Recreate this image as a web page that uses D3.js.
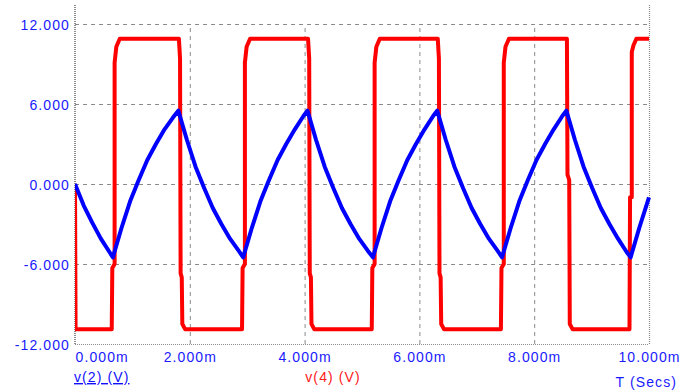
<!DOCTYPE html>
<html><head><meta charset="utf-8">
<script src="https://cdn.jsdelivr.net/npm/d3@7"></script>
<style>
html,body{margin:0;padding:0;background:#fff;}
svg{display:block;}
text{font-family:"Liberation Sans",Arial,sans-serif;font-size:14px;letter-spacing:1.1px;}
</style></head>
<body>
<svg id="chart" width="683" height="391"></svg>
<script>
// Tick values
const yTicks = [-12, -6, 0, 6, 12];
const xTicks = [0, 2, 4, 6, 8, 10];
const xUnit = "m";
const xDomain = [0, 10];
const yDomain = [-12, 12];

// v(2): capacitor voltage (ms, V)
const v2 = [
  [0,0],[0.15,-1.6],[0.3,-2.9],[0.45,-4.1],[0.6,-5.1],[0.66,-5.5],
  [0.81,-3.3],[0.96,-1.3],[1.11,0.3],[1.26,1.8],[1.41,3.0],[1.56,4.1],[1.71,5.0],[1.80,5.5],
  [1.95,3.3],[2.10,1.3],[2.25,-0.3],[2.40,-1.8],[2.55,-3.0],[2.70,-4.1],[2.85,-5.0],[2.93,-5.5],
  [3.08,-3.3],[3.23,-1.3],[3.38,0.3],[3.53,1.8],[3.68,3.0],[3.83,4.1],[3.98,5.1],[4.05,5.5],
  [4.20,3.3],[4.35,1.3],[4.50,-0.3],[4.65,-1.8],[4.80,-3.0],[4.95,-4.1],[5.10,-5.0],[5.19,-5.5],
  [5.34,-3.3],[5.49,-1.3],[5.64,0.3],[5.79,1.8],[5.94,3.0],[6.09,4.1],[6.24,5.1],[6.31,5.5],
  [6.46,3.3],[6.61,1.3],[6.76,-0.3],[6.91,-1.8],[7.06,-3.0],[7.21,-4.1],[7.36,-5.0],[7.44,-5.5],
  [7.59,-3.3],[7.74,-1.3],[7.89,0.3],[8.04,1.8],[8.19,3.0],[8.34,4.1],[8.49,5.1],[8.56,5.5],
  [8.71,3.3],[8.86,1.3],[9.01,-0.3],[9.16,-1.8],[9.31,-3.0],[9.46,-4.1],[9.61,-5.1],[9.68,-5.5],
  [9.83,-3.3],[10.0,-1.0]
];

// v(4): comparator output (ms, V)
const v4 = [
  [0,0],[0.01,-10.9],
  [0.64,-10.9],[0.65,-6.3],[0.69,-6.0],[0.69,9.1],[0.72,10.3],[0.78,10.9],
  [1.81,10.9],[1.83,9.4],[1.84,-6.7],[1.86,-7.0],[1.87,-10.5],[1.92,-10.9],
  [2.91,-10.9],[2.92,-6.3],[2.96,-6.0],[2.96,9.1],[2.99,10.3],[3.05,10.9],
  [4.06,10.9],[4.08,9.4],[4.09,-6.7],[4.11,-7.0],[4.12,-10.5],[4.17,-10.9],
  [5.17,-10.9],[5.18,-6.3],[5.22,-6.0],[5.22,9.1],[5.25,10.3],[5.31,10.9],
  [6.32,10.9],[6.34,9.4],[6.35,-6.7],[6.37,-7.0],[6.38,-10.5],[6.43,-10.9],
  [7.42,-10.9],[7.43,-6.3],[7.47,-6.0],[7.47,9.1],[7.50,10.3],[7.56,10.9],
  [8.57,10.9],[8.58,0.7],[8.61,0.3],[8.62,-10.5],[8.67,-10.9],
  [9.66,-10.9],[9.67,-1.0],[9.70,-1.0],[9.70,9.9],[9.73,10.4],[9.78,10.9],[10,10.9]
];

const legend = [
  {label:"v(2) (V)", color:"#1010ff", underline:true},
  {label:"v(4) (V)", color:"#ff2020", underline:false}
];
const xTitle = "T (Secs)";

const svg = d3.select("#chart");
const L = 75, R = 649, T = 24, B = 344, frameTop = 5;

const x = d3.scaleLinear().domain(xDomain).range([L, R]);
const y = d3.scaleLinear().domain(yDomain).range([B, T]);

const gridColor = "#8a8a8a";
const labelColor = "#1a1aff";

// horizontal gridlines
const gy = svg.append("g").attr("transform", `translate(${L},0)`)
  .call(d3.axisLeft(y).tickValues(yTicks).tickSize(-(R - L)).tickFormat(d => d.toFixed(3)).tickPadding(5));
gy.select(".domain").remove();
gy.selectAll(".tick line")
  .attr("stroke", gridColor).attr("stroke-dasharray", "4,4")
  .attr("x1", 0)
  .style("display", d => d === -12 ? "none" : null);
gy.selectAll(".tick text").attr("fill", labelColor).attr("font-size", 14)
  .attr("font-family", "Liberation Sans, Arial, sans-serif").attr("dy", "0.36em");

// vertical gridlines + x labels
const gx = svg.append("g").attr("transform", `translate(0,${B})`)
  .call(d3.axisBottom(x).tickValues(xTicks).tickSize(-(B - T)).tickFormat(d => d.toFixed(3) + xUnit).tickPadding(6));
gx.select(".domain").remove();
gx.selectAll(".tick line")
  .attr("stroke", gridColor).attr("stroke-dasharray", "4,4")
  .style("display", d => (d === 0 || d === 10) ? "none" : null);
gx.selectAll(".tick text").attr("fill", labelColor).attr("font-size", 14)
  .attr("font-family", "Liberation Sans, Arial, sans-serif")
  .attr("y", 13).attr("dy", "0")
  .attr("text-anchor", d => d === 0 ? "start" : "middle")
  .attr("transform", null);
gx.selectAll(".tick text").attr("y", 18);

// frame: left axis, bottom axis, right border
svg.append("line").attr("x1", L).attr("x2", L).attr("y1", frameTop).attr("y2", B)
  .attr("stroke", "#8c8c8c").attr("stroke-width", 2).attr("stroke-dasharray", "1,1");
svg.append("line").attr("x1", L).attr("x2", R).attr("y1", B + 0.5).attr("y2", B + 0.5)
  .attr("stroke", "#8c8c8c").attr("stroke-width", 1.2).attr("stroke-dasharray", "1,1");
svg.append("line").attr("x1", R + 0.5).attr("x2", R + 0.5).attr("y1", frameTop).attr("y2", B)
  .attr("stroke", "#8c8c8c").attr("stroke-width", 1.2).attr("stroke-dasharray", "1,1");

// clip
svg.append("clipPath").attr("id", "clip").append("rect")
  .attr("x", L).attr("y", frameTop).attr("width", R - L + 2).attr("height", B - frameTop);

const line = d3.line().x(d => x(d[0])).y(d => y(d[1]));

svg.append("path").datum(v4).attr("d", line).attr("fill", "none")
  .attr("stroke", "#ff0000").attr("stroke-width", 4).attr("stroke-linejoin", "round")
  .attr("clip-path", "url(#clip)");
svg.append("path").datum(v2).attr("d", line).attr("fill", "none")
  .attr("stroke", "#0000ff").attr("stroke-width", 4).attr("stroke-linejoin", "round")
  .attr("clip-path", "url(#clip)");

// legend texts
const leg0 = svg.append("text").attr("x", L - 1).attr("y", 382).attr("fill", legend[0].color)
  .attr("text-decoration", "underline").text(legend[0].label);
svg.append("text").attr("x", 333).attr("y", 382).attr("text-anchor", "middle")
  .attr("fill", legend[1].color).text(legend[1].label);
svg.append("text").attr("x", 677).attr("y", 387).attr("text-anchor", "end")
  .attr("fill", labelColor).text(xTitle);
</script>
</body></html>
